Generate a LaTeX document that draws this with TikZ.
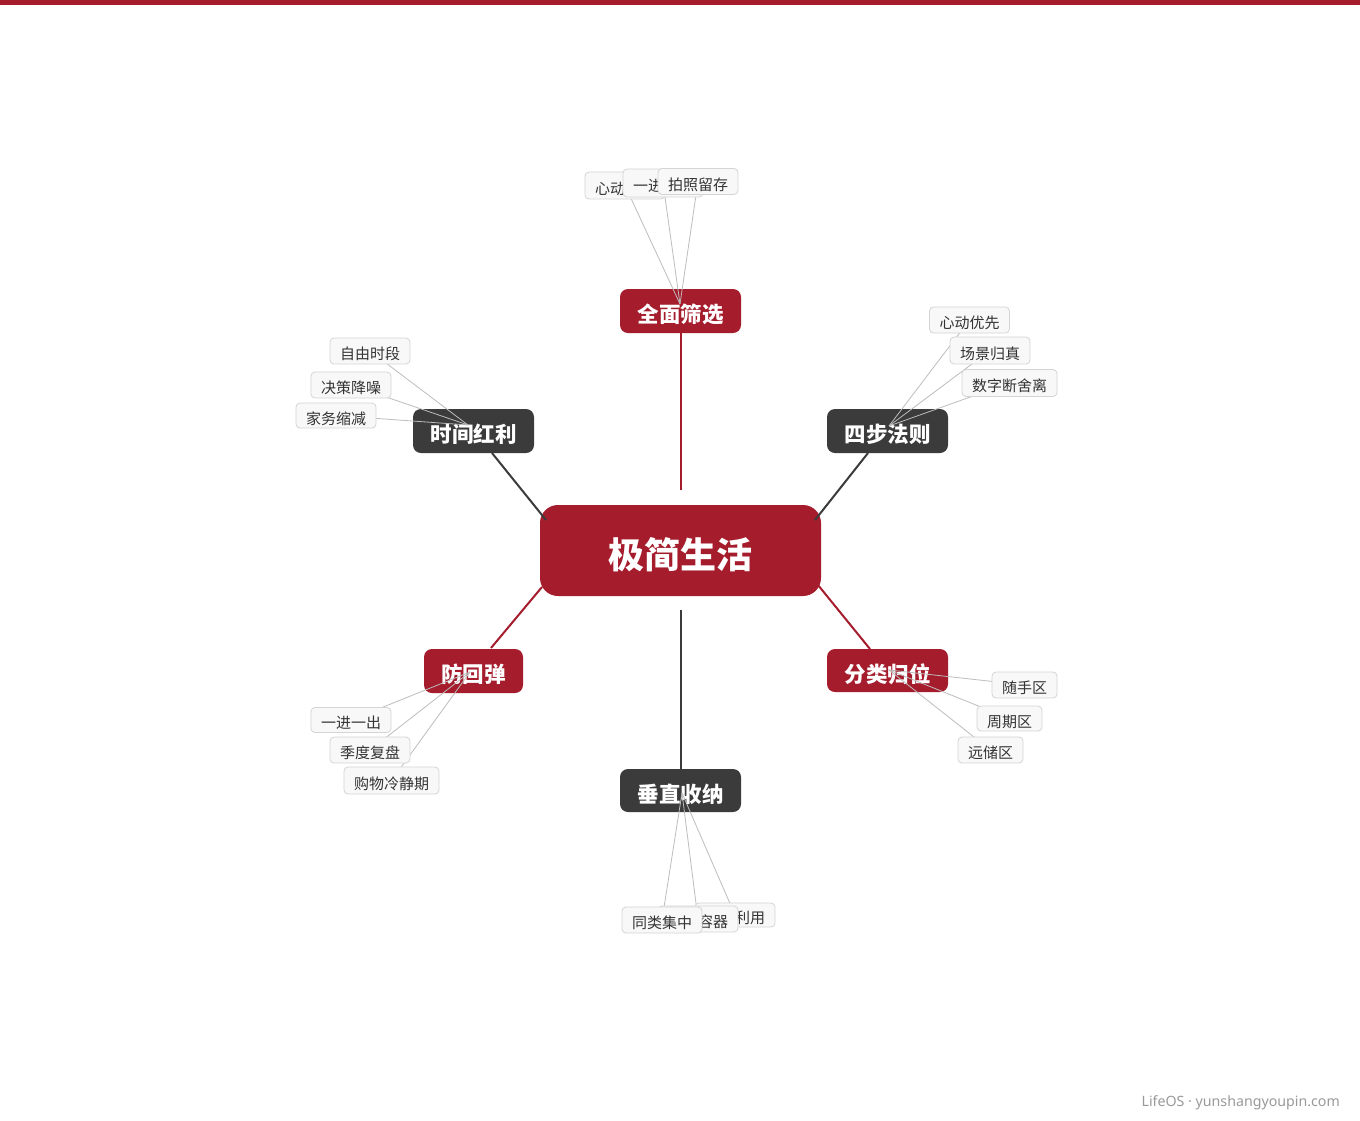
\documentclass[tikz,border=0pt]{standalone}
\usepackage{fontspec}
\newfontfamily\cjk{Noto Sans CJK SC}
\newfontfamily\latinfont{Noto Sans}
\definecolor{mred}{HTML}{A51C2C}
\definecolor{mdark}{HTML}{3B3B3B}
\definecolor{leaffill}{HTML}{F8F8F8}
\definecolor{leafborder}{HTML}{D4D4D4}
\definecolor{leaftext}{HTML}{333333}
\definecolor{leafline}{HTML}{BDBDBD}
\definecolor{foot}{HTML}{9A9A9A}
\begin{document}
\begin{tikzpicture}[x=1pt,y=-1pt,
  centerbox/.style={fill=mred, draw=none, rounded corners=18pt, minimum width=281pt, minimum height=91pt, inner sep=0pt, text height=35pt, text depth=0pt, text=white, font=\cjk\bfseries\fontsize{36}{40}\selectfont},
  branchbox/.style={draw=none, rounded corners=8pt, minimum height=44pt, inner sep=0pt, text height=23pt, text depth=0pt, text=white, font=\cjk\bfseries\fontsize{21.5}{24}\selectfont},
  branchred/.style={branchbox, fill=mred},
  branchdark/.style={branchbox, fill=mdark},
  leafbox/.style={fill=leaffill, draw=leafborder, line width=0.8pt, rounded corners=4pt, minimum height=26pt, inner sep=0pt, text height=17pt, text depth=0pt, text=leaftext, font=\cjk\fontsize{15}{18}\selectfont},
  leafedge/.style={draw=leafline, line width=0.8pt},
  linkred/.style={draw=mred, line width=2pt},
  linkdark/.style={draw=mdark, line width=2pt}
]
\useasboundingbox (0,0) rectangle (1360,1120);
\fill[white] (0,0) rectangle (1360,1120);
\fill[mred] (0,0) rectangle (1360,5);

% center
\node[centerbox] (c) at (680.5,550.5) {极简生活};

% connector end points near the center
\coordinate (cq) at (680.5,490);
\coordinate (cv) at (681,610);
\coordinate (cs) at (815,520);
\coordinate (ct) at (546,520);
\coordinate (cf) at (542,587);
\coordinate (ck) at (818,585);
\coordinate (qs) at (680.5,333);
\coordinate (vs) at (681,769);
\coordinate (ss) at (868,453);
\coordinate (ts) at (492,453);
\coordinate (fs) at (491,648);
\coordinate (ks) at (870,649);

\draw[linkred] (cq) -- (qs);
\draw[linkdark] (cv) -- (vs);
\draw[linkdark] (cs) -- (ss);
\draw[linkdark] (ct) -- (ts);
\draw[linkred] (cf) -- (fs);
\draw[linkred] (ck) -- (ks);

% branches
\node[branchred, minimum width=121pt] (q) at (680.5,311) {全面筛选};
\node[branchdark, minimum width=121pt] (s) at (887.5,431) {四步法则};
\node[branchdark, minimum width=121pt] (t) at (473.5,431) {时间红利};
\node[branchred, minimum width=99pt] (f) at (473.5,671) {防回弹};
\node[branchred, minimum width=121pt, minimum height=43pt] (k) at (887.5,670.5) {分类归位};
\node[branchdark, minimum width=121pt, minimum height=43pt] (v) at (680.5,790.5) {垂直收纳};

% leaf line hubs
\coordinate (qa) at (680,304);
\coordinate (sa) at (889,426);
\coordinate (ta) at (468,425);
\coordinate (fa) at (470,672);
\coordinate (ka) at (889,670);
\coordinate (va) at (682,793);

% leaf positions
\coordinate (pq1) at (625,185.5);
\coordinate (pq2) at (663,183);
\coordinate (pq3) at (698,181.5);
\coordinate (ps1) at (969.5,320);
\coordinate (ps2) at (990,350.5);
\coordinate (ps3) at (1009.5,383);
\coordinate (pt1) at (370,351);
\coordinate (pt2) at (351,385);
\coordinate (pt3) at (336,415.5);
\coordinate (pf1) at (351,720);
\coordinate (pf2) at (370,750);
\coordinate (pf3) at (391.5,780.5);
\coordinate (pk1) at (1024.5,685);
\coordinate (pk2) at (1009.5,718.5);
\coordinate (pk3) at (990.5,750);
\coordinate (pv3) at (735,915);
\coordinate (pv2) at (698,919);
\coordinate (pv1) at (662,920);

% leaf edges
\foreach \h/\p in {qa/pq1,qa/pq2,qa/pq3,sa/ps1,sa/ps2,sa/ps3,ta/pt1,ta/pt2,ta/pt3,fa/pf1,fa/pf2,fa/pf3,ka/pk1,ka/pk2,ka/pk3,va/pv1,va/pv2,va/pv3}
  \draw[leafedge] (\h) -- (\p);

% leaves
\node[leafbox, minimum width=80pt, minimum height=27pt] (q1) at (pq1) {心动清单};
\node[leafbox, minimum width=80pt, minimum height=28pt] (q2) at (pq2) {一进一出};
\node[leafbox, minimum width=80pt] (q3) at (pq3) {拍照留存};

\node[leafbox, minimum width=80pt] (s1) at (ps1) {心动优先};
\node[leafbox, minimum width=80pt, minimum height=27pt] (s2) at (ps2) {场景归真};
\node[leafbox, minimum width=95pt, minimum height=27pt] (s3) at (ps3) {数字断舍离};

\node[leafbox, minimum width=80pt] (t1) at (pt1) {自由时段};
\node[leafbox, minimum width=80pt] (t2) at (pt2) {决策降噪};
\node[leafbox, minimum width=80pt, minimum height=25pt] (t3) at (pt3) {家务缩减};

\node[leafbox, minimum width=80pt, minimum height=25pt] (f1) at (pf1) {一进一出};
\node[leafbox, minimum width=80pt] (f2) at (pf2) {季度复盘};
\node[leafbox, minimum width=95pt, minimum height=27pt] (f3) at (pf3) {购物冷静期};

\node[leafbox, minimum width=65pt] (k1) at (pk1) {随手区};
\node[leafbox, minimum width=65pt, minimum height=25pt] (k2) at (pk2) {周期区};
\node[leafbox, minimum width=65pt] (k3) at (pk3) {远储区};

\node[leafbox, minimum width=80pt, minimum height=24pt] (v3) at (pv3) {墙面利用};
\node[leafbox, minimum width=80pt] (v2) at (pv2) {透明容器};
\node[leafbox, minimum width=80pt] (v1) at (pv1) {同类集中};

% footer
\node[anchor=base east, inner sep=0pt, text=foot, font=\latinfont\fontsize{14.2}{16}\selectfont] (foot) at (1340,1106) {LifeOS · yunshangyoupin.com};
\end{tikzpicture}
\end{document}
